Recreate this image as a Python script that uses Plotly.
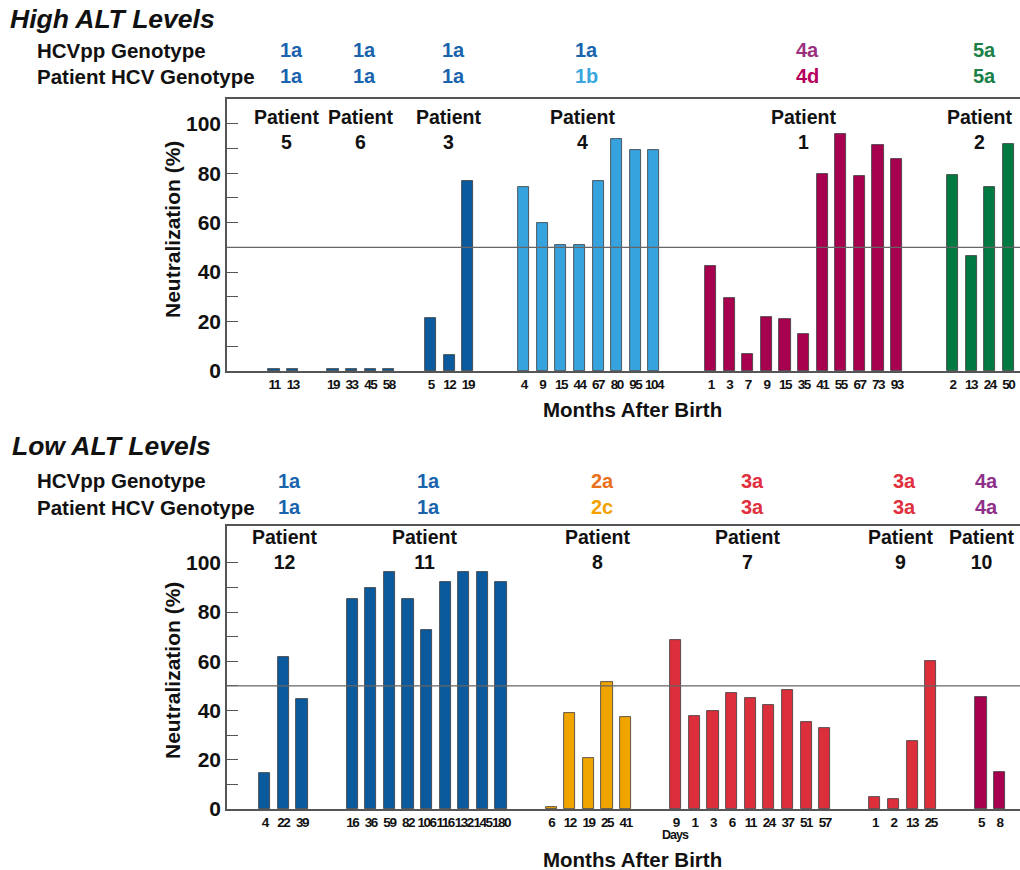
import plotly.graph_objects as go

# ---------------- DATA ----------------
# High ALT levels panel
high_patients = ["5", "6", "3", "4", "1", "2"]
high_months = [
    ["11", "13"],
    ["19", "33", "45", "58"],
    ["5", "12", "19"],
    ["4", "9", "15", "44", "67", "80", "95", "104"],
    ["1", "3", "7", "9", "15", "35", "41", "55", "67", "73", "93"],
    ["2", "13", "24", "50"],
]
high_values = [
    [1, 1],
    [1, 1, 1, 1],
    [21.3, 6.3, 76.7],
    [74.5, 59.7, 51.1, 51.1, 76.7, 93.7, 89.5, 89.5],
    [42.6, 29.6, 6.8, 22.0, 21.2, 15.0, 79.8, 95.7, 78.8, 91.6, 85.8],
    [79.4, 46.6, 74.5, 92.0],
]
high_hcvpp = ["1a", "1a", "1a", "1a", "4a", "5a"]
high_patient_gt = ["1a", "1a", "1a", "1b", "4d", "5a"]

# Low ALT levels panel
low_patients = ["12", "11", "8", "7", "9", "10"]
low_months = [
    ["4", "22", "39"],
    ["16", "36", "59", "82", "106", "116", "132", "145", "180"],
    ["6", "12", "19", "25", "41"],
    ["9", "1", "3", "6", "11", "24", "37", "51", "57"],
    ["1", "2", "13", "25"],
    ["5", "8"],
]
low_values = [
    [14.8, 61.9, 44.9],
    [85.5, 89.8, 96.2, 85.5, 72.6, 92.3, 96.2, 96.5, 92.3],
    [1.0, 38.9, 20.8, 51.8, 37.3],
    [68.5, 37.7, 40.0, 47.1, 45.0, 42.4, 48.2, 35.4, 33.1],
    [4.9, 4.2, 27.7, 60.2],
    [45.5, 15.0],
]
low_hcvpp = ["1a", "1a", "2a", "3a", "3a", "4a"]
low_patient_gt = ["1a", "1a", "2c", "3a", "3a", "4a"]

threshold = 50

# ---------------- STYLE ----------------
DBLUE = "#0b5a9d"
LBLUE = "#36a3de"
MAGENTA = "#a6004f"
GREEN = "#007a40"
ORANGE = "#f0a400"
RED = "#dc2f3b"

high_bar_colors = [DBLUE, DBLUE, DBLUE, LBLUE, MAGENTA, GREEN]
low_bar_colors = [DBLUE, DBLUE, ORANGE, RED, RED, MAGENTA]

gt_color = {"1a": "#1a64ad", "1b": "#3aa6e0", "4d": "#b4005c", "5a": "#1a8048",
            "2a": "#ea6f1a", "2c": "#f2a200", "3a": "#e03040"}
high_4a = "#9b2f80"
low_4a = "#8e2f8a"

FONT = "Liberation Sans, Arial, Helvetica, sans-serif"
W, H = 1020, 870

# layout gaps (slot units) between groups
high_start, high_gaps = 2.53, [2.17, 2.25, 3.0, 3.05, 3.0]
low_start, low_gaps = 2.03, [2.7, 2.7, 2.7, 2.7, 2.7]
XMAX = 42.63


def positions(groups, start, gaps):
    out = []
    cur = start
    for gi, g in enumerate(groups):
        pos = [cur + i for i in range(len(g))]
        out.append(pos)
        if gi < len(gaps):
            cur = pos[-1] + gaps[gi]
    return out


high_pos = positions(high_months, high_start, high_gaps)
low_pos = positions(low_months, low_start, low_gaps)

fig = go.Figure()

def add_panel(pos, vals, colors, xa, ya):
    for p, v, c in zip(pos, vals, colors):
        fig.add_trace(go.Bar(x=p, y=v, width=0.6, marker=dict(color=c, line=dict(color="#3a3a3a", width=0.8)),
                             xaxis=xa, yaxis=ya, showlegend=False, hoverinfo="x+y"))

add_panel(high_pos, high_values, high_bar_colors, "x", "y")
add_panel(low_pos, low_values, low_bar_colors, "x2", "y2")

# domains in paper coords (pixels -> fraction)
def py(px):
    return 1 - px / H

def pxf(px):
    return px / W

xdom = [pxf(227), 1.0]
top_dom = [py(371), py(99)]
bot_dom = [py(809), py(526)]

flat = lambda L: [a for g in L for a in g]
# condensed-looking tick labels via negative letter spacing
tight = lambda L: ['<span style="letter-spacing:-1.5px">%s</span>' % s for s in flat(L)]

axis_line = dict(showline=True, linecolor="#555555", linewidth=1.5, showgrid=False, zeroline=False)
xcommon = dict(axis_line, range=[0, XMAX], ticks="", mirror=True, automargin=False, tickangle=0,
               tickfont=dict(family=FONT, size=13.5, color="#111", weight="bold"))
ycommon = dict(axis_line, tickvals=list(range(0, 101, 10)),
               ticktext=[str(v) if v % 20 == 0 else "" for v in range(0, 101, 10)],
               ticks="inside", ticklen=11, tickcolor="#555555", tickwidth=1.3, automargin=False,
               tickfont=dict(family=FONT, size=21, color="#111", weight="bold"))

fig.update_layout(
    width=W, height=H, margin=dict(l=0, r=0, t=0, b=0), plot_bgcolor="white", paper_bgcolor="white",
    bargap=0,
    xaxis=dict(xcommon, domain=xdom, anchor="y", tickvals=flat(high_pos), ticktext=tight(high_months)),
    yaxis=dict(ycommon, domain=top_dom, anchor="x", range=[0, 110]),
    xaxis2=dict(xcommon, domain=xdom, anchor="y2", tickvals=flat(low_pos), ticktext=tight(low_months)),
    yaxis2=dict(ycommon, domain=bot_dom, anchor="x2", range=[0, 115]),
)

# threshold lines
for ya in ["y", "y2"]:
    fig.add_shape(type="line", xref="x domain" if ya == "y" else "x2 domain", yref=ya,
                  x0=0, x1=1, y0=threshold, y1=threshold, line=dict(color="#666666", width=1.2))

ann = []
def text(x, y, s, size, color="#111", xref="paper", yref="paper", xanchor="center", yanchor="middle",
         italic=False, angle=0, xshift=0):
    ann.append(dict(x=x, y=y, text=s, xref=xref, yref=yref, xanchor=xanchor, yanchor=yanchor,
                    showarrow=False, textangle=angle, xshift=xshift,
                    font=dict(family=FONT, size=size, color=color, weight="bold",
                              style="italic" if italic else "normal")))

# panel titles and row headers
text(pxf(8), py(19), "High ALT Levels", 26.5, xanchor="left", italic=True)
text(pxf(10), py(446), "Low ALT Levels", 26.5, xanchor="left", italic=True)
for yy0 in (50, 481):
    text(pxf(35), py(yy0), "HCVpp Genotype", 20.5, xanchor="left")
    text(pxf(35), py(yy0 + 26), "Patient HCV Genotype", 20.5, xanchor="left")

def centers(pos):
    return [(p[0] + p[-1]) / 2 for p in pos]

# top panel group labels
high_shift = [4, 0, 0, -6, 0, 0]
for c, pt, g1, g2, sh in zip(centers(high_pos), high_patients, high_hcvpp, high_patient_gt, high_shift):
    text(c, 97.7, "Patient<br>" + pt, 19.5, xref="x", yref="y", xshift=sh)
    c1 = high_4a if g1 == "4a" else gt_color[g1]
    c2 = high_4a if g2 == "4a" else gt_color[g2]
    text(c, py(50), g1, 20, color=c1, xref="x", xshift=sh + 4)
    text(c, py(76), g2, 20, color=c2, xref="x", xshift=sh + 4)

low_shift = [2, -2, 10, -2, -2, -8]
for c, pt, g1, g2, sh in zip(centers(low_pos), low_patients, low_hcvpp, low_patient_gt, low_shift):
    text(c, 105.4, "Patient<br>" + pt, 19.5, xref="x2", yref="y2", xshift=sh)
    c1 = low_4a if g1 == "4a" else gt_color[g1]
    c2 = low_4a if g2 == "4a" else gt_color[g2]
    text(c, py(481), g1, 20, color=c1, xref="x2", xshift=sh + 4)
    text(c, py(507), g2, 20, color=c2, xref="x2", xshift=sh + 4)

# axis titles
text(pxf(632), py(409), "Months After Birth", 20.5)
text(pxf(632), py(859), "Months After Birth", 20.5)
text(pxf(172), py(230), "Neutralization (%)", 21, angle=-90)
text(pxf(172), py(671), "Neutralization (%)", 21, angle=-90)

# "Days" note under first bar of patient 7
text(low_pos[3][0], py(835), '<span style="letter-spacing:-1px">Days</span>', 12.5, xref="x2")

fig.update_layout(annotations=ann)
fig.write_html("out.html", config={"displayModeBar": False},
               post_script="document.body.style.margin='0';document.body.style.overflow='hidden';")
